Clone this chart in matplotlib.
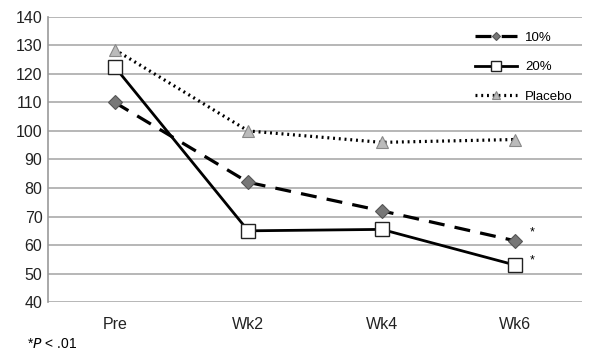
import matplotlib
matplotlib.use("Agg")
import matplotlib.pyplot as plt

categories = ["Pre", "Wk2", "Wk4", "Wk6"]
s10 = [110, 82, 72, 61.5]
s20 = [122.5, 65, 65.5, 53]
placebo = [128.5, 100, 96, 97]
yticks = [40, 50, 60, 70, 80, 90, 100, 110, 120, 130, 140]

plt.rcParams['font.family'] = ['Liberation Sans', 'DejaVu Sans']

fig = plt.figure(figsize=(5.92, 3.58), dpi=100)
ax = fig.add_axes([0.081, 0.156, 0.902, 0.797])
x = list(range(len(categories)))

ax.plot(x, s10, color='black', lw=2.3, dashes=(5, 3.2), marker='D', ms=7,
        mfc='#777777', mec='#555555', mew=0.8, label='10%', zorder=3)
ax.plot(x, s20, color='black', lw=2.0, marker='s', ms=10,
        mfc='white', mec='#222222', mew=1.0, label='20%', zorder=4)
ax.plot(x, placebo, color='black', lw=2.3, linestyle=(0, (0.6, 1.2)), marker='^', ms=9,
        mfc='#bbbbbb', mec='#888888', mew=0.8, label='Placebo', zorder=3)

ax.set_xlim(-0.5, 3.5)
ax.set_ylim(40, 140)
ax.set_yticks(yticks)
ax.set_xticks(x)
ax.set_xticklabels(categories)
ax.yaxis.grid(True, color='#aaaaaa', lw=1.2)
ax.set_axisbelow(True)
for s in ['top', 'right', 'bottom']:
    ax.spines[s].set_visible(False)
ax.spines['left'].set_color('#999999')
ax.spines['left'].set_linewidth(1.2)
ax.tick_params(axis='both', length=0, labelsize=11.5, colors='#222222')
ax.tick_params(axis='x', pad=11)
ax.tick_params(axis='y', pad=4)

ax.text(3.13, 64.5, '*', fontsize=9, ha='center', va='center')
ax.text(3.13, 54.5, '*', fontsize=9, ha='center', va='center')

leg = ax.legend(loc='upper right', bbox_to_anchor=(1.005, 0.99), frameon=False,
                fontsize=9.5, handlelength=3.2, labelspacing=1.3, handletextpad=0.6,
                markerscale=0.65)

fig.text(0.045, 0.04, r'*$\it{P}$ < .01', fontsize=10, ha='left', va='center')

fig.savefig('out.png', dpi=100)
